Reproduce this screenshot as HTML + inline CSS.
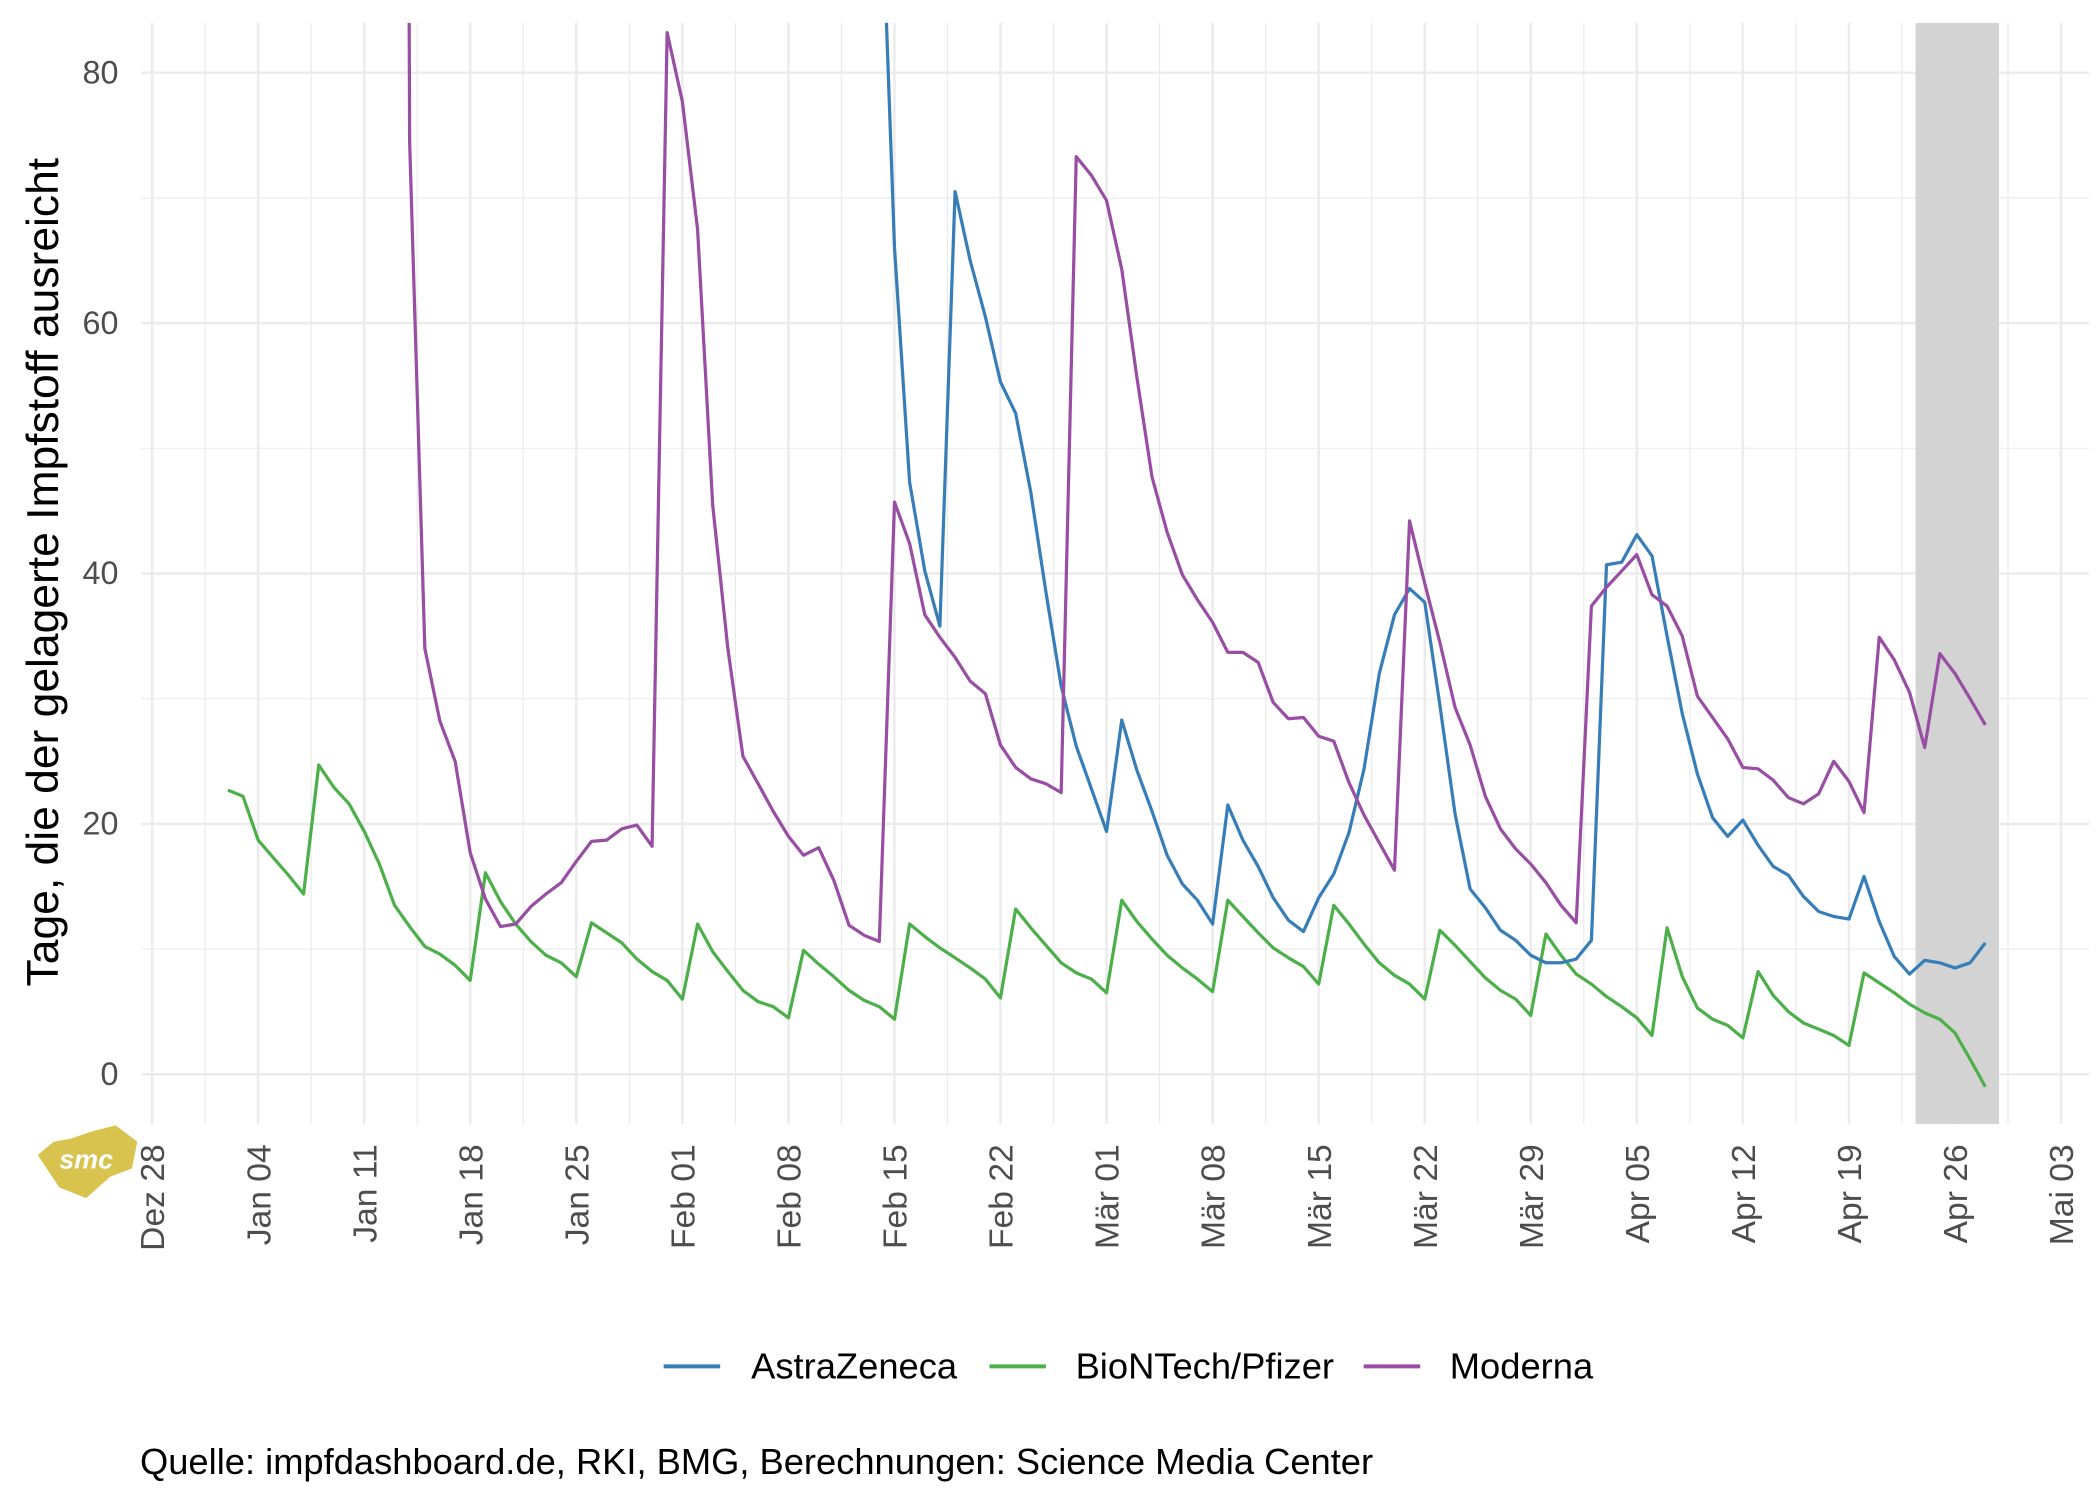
<!DOCTYPE html>
<html><head><meta charset="utf-8"><style>
html,body{margin:0;padding:0;background:#fff;}
svg{display:block;}
text{font-family:"Liberation Sans",Arial,sans-serif;}
</style></head><body>
<svg id="c" width="2100" height="1499" viewBox="0 0 1560 1113.5" xmlns="http://www.w3.org/2000/svg">
<defs><clipPath id="pc"><rect x="105" y="17" width="1447" height="818"/></clipPath></defs>
<g id="grid"></g>
<rect x="1423" y="17" width="62" height="818" fill="#d3d3d3"/>
<g id="lines" clip-path="url(#pc)"></g>
<g fill="#4d4d4d" font-size="24" text-anchor="end">
<text x="88" y="806">0</text>
<text x="88" y="620">20</text>
<text x="88" y="434">40</text>
<text x="88" y="248">60</text>
<text x="88" y="62">80</text>
</g>
<text transform="translate(43,425) rotate(-90)" font-size="33" text-anchor="middle" fill="#000">Tage, die der gelagerte Impfstoff ausreicht</text>
<g id="xl" fill="#4d4d4d" font-size="25" text-anchor="end"></g>
<g>
<polygon points="28,858 40,848 52,846 70,840 86,836 102,848 98,868 82,874 64,890 44,882 36,870" fill="#d8c34f"/>
<text x="64" y="868" font-size="20" font-weight="bold" fill="#fff" text-anchor="middle" font-style="italic">smc</text>
</g>
<g font-size="27" fill="#000">
<line x1="493" y1="1015" x2="535" y2="1015" stroke="#377eb8" stroke-width="3"/>
<text x="558" y="1024">AstraZeneca</text>
<line x1="735" y1="1015" x2="777" y2="1015" stroke="#4daf4a" stroke-width="3"/>
<text x="799" y="1024">BioNTech/Pfizer</text>
<line x1="1013" y1="1015" x2="1055" y2="1015" stroke="#984ea3" stroke-width="3"/>
<text x="1077" y="1024">Moderna</text>
<text x="104" y="1095" textLength="916" lengthAdjust="spacingAndGlyphs">Quelle: impfdashboard.de, RKI, BMG, Berechnungen: Science Media Center</text>
</g>
</svg>
<script>
function X(d){return 113+d*78.78/7;}
function Y(v){return 798-9.3*v;}
var g=document.getElementById('grid'),s='';
for(var v=10;v<=90;v+=20){if(Y(v)>17)s+='<line x1="105" x2="1552" y1="'+Y(v)+'" y2="'+Y(v)+'" stroke="#ebebeb" stroke-width="0.9"/>';}
for(var w=0;w<18;w++){var x=X(w*7+3.5);s+='<line x1="'+x+'" x2="'+x+'" y1="17" y2="835" stroke="#ebebeb" stroke-width="0.9"/>';}
for(var v=0;v<=80;v+=20){s+='<line x1="105" x2="1552" y1="'+Y(v)+'" y2="'+Y(v)+'" stroke="#ebebeb" stroke-width="1.8"/>';}
for(var w=0;w<=18;w++){var x=X(w*7);s+='<line x1="'+x+'" x2="'+x+'" y1="17" y2="835" stroke="#ebebeb" stroke-width="1.8"/>';}
g.innerHTML=s;
var labs=["Dez 28","Jan 04","Jan 11","Jan 18","Jan 25","Feb 01","Feb 08","Feb 15","Feb 22","Mär 01","Mär 08","Mär 15","Mär 22","Mär 29","Apr 05","Apr 12","Apr 19","Apr 26","Mai 03"];
var xl='';for(var i=0;i<labs.length;i++){var x=X(i*7)+9;xl+='<text transform="translate('+x+',850) rotate(-90)">'+labs[i]+'</text>';}
document.getElementById('xl').innerHTML=xl;
var green=[5,[22.7,22.2,18.7,17.3,15.9,14.4,24.7,22.9,21.6,19.4,16.8,13.5,11.8,10.2,9.6,8.7,7.5,16.1,13.8,12,10.6,9.5,8.9,7.8,12.1,11.3,10.5,9.2,8.2,7.5,6,12,9.8,8.2,6.7,5.8,5.4,4.5,9.9,8.8,7.8,6.7,5.9,5.4,4.4,12,11,10.1,9.3,8.5,7.6,6.1,13.2,11.7,10.3,8.9,8.1,7.6,6.5,13.9,12.2,10.8,9.5,8.5,7.6,6.6,13.9,12.6,11.3,10.1,9.3,8.6,7.2,13.5,12,10.4,8.9,7.9,7.2,6.0,11.5,10.3,9,7.7,6.7,6,4.7,11.2,9.5,8,7.2,6.2,5.4,4.5,3.1,11.7,7.8,5.3,4.4,3.9,2.9,8.2,6.3,5.0,4.1,3.6,3.1,2.3,8.1,7.3,6.5,5.6,4.9,4.4,3.3,1.2,-1.0]];
var blue=[47,[130,100,66,47.3,40.2,35.8,70.5,65,60.5,55.3,52.8,46.5,38.5,31,26.2,22.8,19.4,28.3,24.3,21,17.5,15.2,13.9,12,21.5,18.7,16.6,14.1,12.3,11.4,14.1,16,19.3,24.4,32,36.7,38.8,37.7,29.5,20.8,14.8,13.3,11.5,10.7,9.5,8.9,8.9,9.2,10.7,40.7,40.9,43.1,41.4,35,28.8,24,20.5,19,20.3,18.3,16.6,15.9,14.2,13,12.6,12.4,15.8,12.2,9.4,8,9.1,8.9,8.5,8.9,10.5]];
var purple=[16,[400,74.5,34,28.2,25,17.7,14,11.8,12,13.4,14.4,15.3,17,18.6,18.7,19.6,19.9,18.2,83.2,77.7,67.5,45.5,34,25.4,23.2,21,19,17.5,18.1,15.5,11.9,11.1,10.6,45.7,42.4,36.7,34.9,33.3,31.4,30.4,26.3,24.5,23.6,23.2,22.5,73.3,71.8,69.8,64.3,55.7,47.7,43.3,39.9,37.9,36.1,33.7,33.7,32.9,29.7,28.4,28.5,27,26.6,23.3,20.7,18.5,16.3,44.2,39.2,34.5,29.3,26.3,22.2,19.6,18,16.8,15.3,13.5,12.1,37.4,38.9,40.2,41.5,38.3,37.4,35,30.2,28.5,26.8,24.5,24.4,23.5,22.1,21.6,22.4,25,23.4,20.9,34.9,33.1,30.5,26.1,33.6,32,30,27.9]];
function pl(ser,col){var p=[];for(var i=0;i<ser[1].length;i++)p.push(X(ser[0]+i).toFixed(1)+','+Y(ser[1][i]).toFixed(1));return '<polyline fill="none" stroke="'+col+'" stroke-width="2.4" stroke-linejoin="round" points="'+p.join(' ')+'"/>';}
document.getElementById('lines').innerHTML=pl(green,'#4daf4a')+pl(blue,'#377eb8')+pl(purple,'#984ea3');
</script>
</body></html>
